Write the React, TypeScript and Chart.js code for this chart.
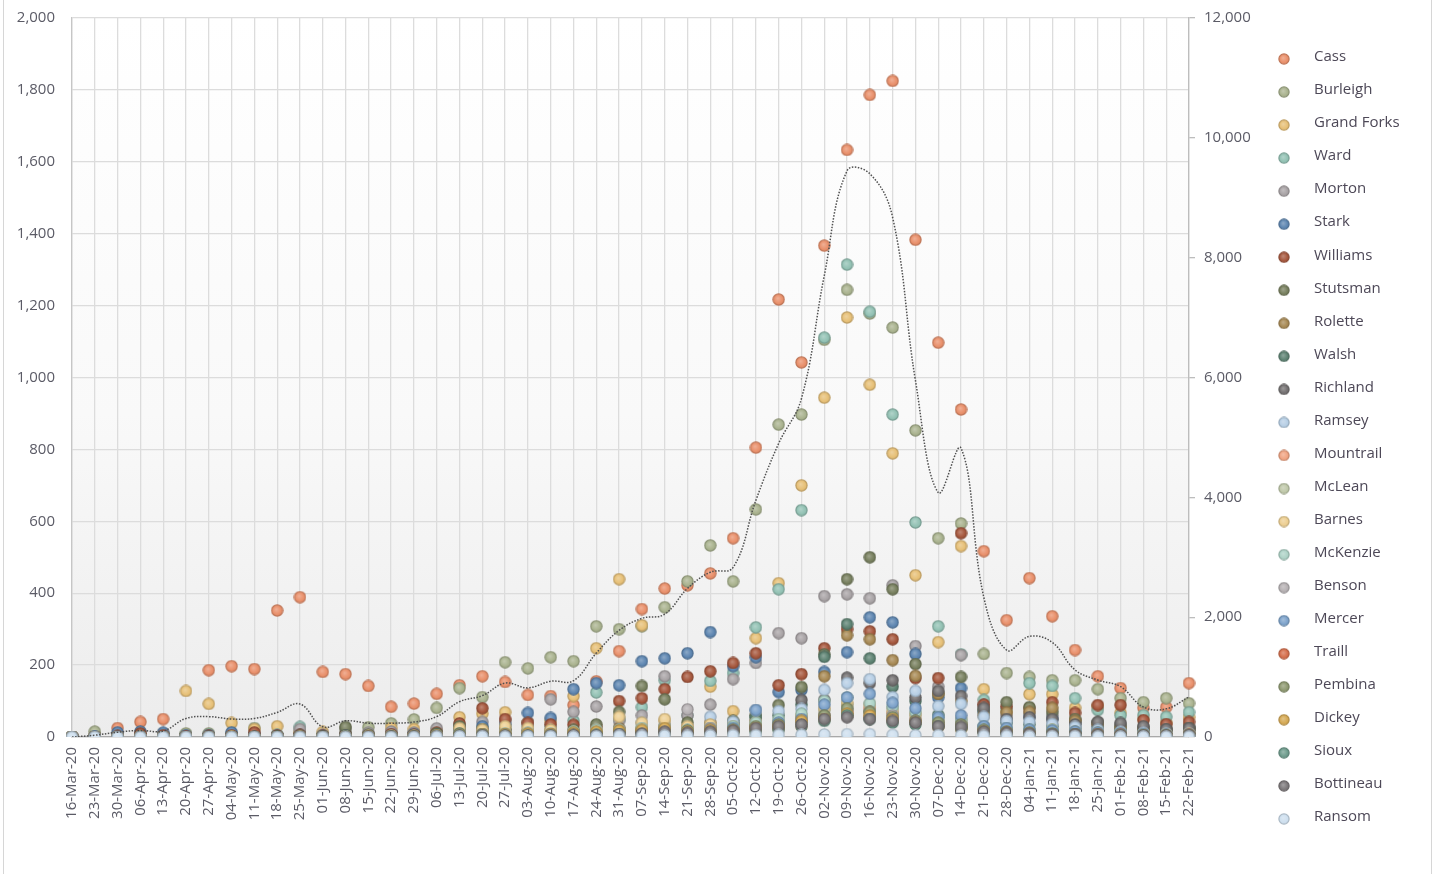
import React, { useEffect, useRef } from 'react';
import { Chart, registerables } from 'chart.js';

Chart.register(...registerables);

const weeks = [
  '16-Mar-20', '23-Mar-20', '30-Mar-20', '06-Apr-20', '13-Apr-20', '20-Apr-20', '27-Apr-20', '04-May-20', '11-May-20', '18-May-20',
  '25-May-20', '01-Jun-20', '08-Jun-20', '15-Jun-20', '22-Jun-20', '29-Jun-20', '06-Jul-20', '13-Jul-20', '20-Jul-20', '27-Jul-20',
  '03-Aug-20', '10-Aug-20', '17-Aug-20', '24-Aug-20', '31-Aug-20', '07-Sep-20', '14-Sep-20', '21-Sep-20', '28-Sep-20', '05-Oct-20',
  '12-Oct-20', '19-Oct-20', '26-Oct-20', '02-Nov-20', '09-Nov-20', '16-Nov-20', '23-Nov-20', '30-Nov-20', '07-Dec-20', '14-Dec-20',
  '21-Dec-20', '28-Dec-20', '04-Jan-21', '11-Jan-21', '18-Jan-21', '25-Jan-21', '01-Feb-21', '08-Feb-21', '15-Feb-21', '22-Feb-21',
];

const counties = [
  'Cass', 'Burleigh', 'Grand Forks', 'Ward', 'Morton', 'Stark', 'Williams', 'Stutsman', 'Rolette', 'Walsh', 'Richland', 'Ramsey',
  'Mountrail', 'McLean', 'Barnes', 'McKenzie', 'Benson', 'Mercer', 'Traill', 'Pembina', 'Dickey', 'Sioux', 'Bottineau', 'Ransom',
];

const countyColors = [
  '#E9906B', '#AAB38F', '#E7C077', '#93C2B4', '#A9A4A6', '#5E86B1', '#A6583E', '#78805F', '#A88A55', '#5E8373', '#747172', '#B7CFE5',
  '#F0A482', '#C0C9AA', '#EDCF92', '#AED3C7', '#B7B2B4', '#7EA3CB', '#D56F4D', '#8F9A72', '#D6AA55', '#6F9C8D', '#7D797B', '#CFE0EF',
];

const cass = [0, 4, 25, 42, 50, 5, 186, 197, 189, 352, 389, 181, 175, 142, 84, 93, 120, 144, 169, 153, 117, 114, 89, 155, 239, 356, 413, 422, 455, 553, 805, 1217, 1042, 1367, 1633, 1786, 1825, 1383, 1097, 911, 517, 325, 442, 336, 242, 169, 136, 81, 83, 150];
const burleigh = [0, 15, 5, 8, 6, 10, 10, 8, 25, 6, 12, 6, 22, 27, 38, 49, 81, 136, 111, 208, 191, 222, 211, 308, 300, 308, 361, 433, 533, 433, 633, 869, 897, 1105, 1244, 1178, 1139, 853, 553, 594, 231, 178, 167, 158, 158, 133, 108, 97, 108, 94];
const grandForks = [0, 2, 4, 6, 8, 128, 92, 39, 22, 30, 12, 14, 10, 8, 25, 22, 18, 55, 65, 69, 40, 45, 114, 247, 439, 311, 45, 30, 140, 72, 275, 428, 700, 944, 1167, 980, 789, 450, 264, 531, 133, 70, 119, 119, 81, 85, 67, 50, 40, 55];
const ward = [0, 1, 3, 4, 3, 5, 6, 10, 8, 6, 28, 5, 10, 8, 12, 10, 12, 35, 25, 30, 30, 30, 45, 124, 50, 83, 158, 60, 156, 178, 305, 411, 631, 1111, 1314, 1183, 897, 597, 308, 230, 103, 80, 150, 142, 108, 75, 60, 61, 56, 69];
const morton = [0, 2, 3, 4, 3, 4, 5, 6, 5, 4, 22, 6, 24, 12, 15, 12, 24, 30, 42, 45, 40, 105, 70, 85, 45, 60, 169, 60, 90, 161, 206, 289, 275, 392, 397, 386, 422, 253, 140, 228, 90, 60, 65, 60, 45, 40, 35, 28, 25, 30];
const stark = [0, 2, 13, 15, 12, 4, 5, 13, 8, 4, 6, 3, 8, 5, 6, 8, 10, 28, 30, 35, 67, 53, 133, 150, 144, 211, 219, 233, 292, 197, 222, 125, 131, 181, 236, 333, 319, 231, 110, 136, 70, 45, 55, 50, 40, 30, 25, 20, 18, 22];
const williams = [0, 0, 3, 10, 5, 2, 3, 5, 13, 4, 6, 3, 8, 5, 8, 6, 12, 38, 80, 50, 39, 35, 34, 28, 100, 108, 133, 167, 183, 206, 233, 144, 175, 247, 300, 294, 272, 164, 164, 567, 90, 85, 80, 97, 67, 89, 89, 47, 36, 42];
const stutsman = [0, 0, 0, 1, 0, 0, 1, 2, 1, 1, 3, 2, 28, 6, 4, 5, 10, 30, 22, 20, 15, 18, 20, 35, 70, 142, 105, 40, 30, 45, 60, 89, 139, 230, 439, 500, 411, 203, 120, 167, 75, 97, 83, 70, 50, 40, 30, 25, 20, 25];
const rolette = [0, 0, 0, 0, 0, 0, 0, 1, 0, 0, 0, 1, 2, 1, 2, 4, 5, 20, 15, 18, 15, 12, 10, 18, 25, 20, 30, 25, 40, 35, 45, 25, 55, 169, 283, 272, 214, 170, 120, 100, 60, 69, 70, 81, 45, 35, 25, 20, 15, 18];
const walsh = [0, 0, 0, 0, 0, 0, 0, 0, 0, 1, 2, 1, 5, 3, 2, 3, 6, 25, 10, 12, 8, 10, 12, 8, 15, 18, 25, 20, 30, 40, 55, 60, 90, 223, 314, 219, 140, 100, 61, 33, 28, 40, 35, 30, 25, 20, 15, 12, 10, 12];
const richland = [0, 0, 1, 1, 0, 0, 1, 0, 1, 0, 2, 1, 3, 2, 2, 3, 4, 20, 18, 15, 12, 10, 8, 10, 20, 6, 15, 20, 25, 30, 33, 40, 103, 103, 165, 150, 158, 110, 128, 114, 81, 50, 55, 50, 35, 42, 39, 30, 22, 25];
const ramsey = [0, 0, 0, 0, 0, 0, 0, 0, 0, 0, 0, 0, 1, 1, 1, 2, 3, 15, 12, 10, 10, 12, 10, 15, 20, 39, 30, 25, 56, 42, 75, 72, 78, 131, 150, 161, 111, 128, 86, 92, 56, 44, 42, 36, 28, 20, 15, 12, 10, 10];
const mountrail = [0, 0, 0, 0, 0, 0, 0, 0, 0, 0, 0, 0, 1, 0, 1, 2, 2, 8, 10, 12, 8, 6, 10, 12, 15, 20, 18, 15, 20, 25, 30, 35, 45, 60, 70, 80, 65, 50, 35, 30, 18, 15, 12, 10, 8, 6, 5, 4, 3, 5];
const mclean = [0, 0, 0, 0, 0, 0, 0, 0, 0, 0, 0, 0, 1, 1, 2, 1, 2, 8, 10, 15, 12, 10, 12, 15, 20, 25, 30, 22, 30, 25, 35, 40, 55, 75, 90, 70, 80, 60, 45, 50, 25, 20, 18, 15, 12, 10, 8, 6, 5, 6];
const barnes = [0, 0, 0, 1, 0, 0, 0, 1, 0, 0, 1, 0, 2, 3, 4, 3, 5, 25, 20, 30, 25, 20, 15, 20, 56, 40, 50, 30, 35, 30, 40, 45, 60, 80, 95, 90, 70, 65, 45, 40, 25, 20, 18, 20, 15, 12, 10, 8, 8, 10];
const mckenzie = [0, 0, 0, 0, 0, 0, 0, 0, 0, 0, 0, 0, 1, 1, 1, 2, 3, 10, 8, 10, 12, 10, 15, 20, 18, 25, 22, 20, 25, 30, 40, 50, 65, 100, 110, 94, 85, 70, 55, 45, 30, 25, 22, 20, 15, 12, 10, 8, 6, 8];
const benson = [0, 0, 0, 0, 0, 0, 0, 0, 0, 0, 0, 0, 0, 1, 1, 1, 2, 5, 8, 6, 5, 8, 6, 10, 12, 15, 20, 77, 25, 20, 25, 30, 40, 60, 75, 70, 60, 45, 40, 35, 20, 15, 12, 10, 8, 6, 5, 5, 4, 5];
const mercer = [0, 0, 0, 0, 0, 0, 0, 0, 0, 0, 0, 0, 1, 1, 2, 2, 3, 8, 6, 5, 6, 5, 8, 10, 12, 15, 10, 12, 20, 25, 75, 40, 50, 90, 110, 120, 95, 80, 55, 60, 30, 25, 20, 18, 15, 12, 10, 8, 6, 8];
const traill = [0, 0, 0, 0, 0, 0, 0, 0, 0, 0, 0, 0, 0, 1, 1, 2, 2, 6, 5, 4, 5, 6, 4, 8, 10, 12, 10, 8, 12, 15, 20, 25, 30, 50, 60, 55, 45, 40, 30, 25, 15, 12, 10, 8, 6, 8, 6, 5, 4, 6];
const pembina = [0, 0, 0, 0, 0, 0, 0, 0, 0, 0, 0, 0, 1, 1, 2, 2, 3, 10, 8, 6, 5, 6, 8, 10, 12, 15, 20, 18, 15, 20, 30, 35, 40, 60, 80, 70, 55, 45, 40, 35, 20, 15, 12, 10, 8, 6, 5, 5, 4, 5];
const dickey = [0, 0, 0, 0, 0, 0, 0, 0, 0, 0, 0, 0, 0, 1, 1, 2, 3, 5, 6, 8, 10, 8, 12, 15, 18, 20, 25, 15, 20, 18, 25, 30, 45, 50, 65, 60, 50, 40, 30, 25, 15, 12, 10, 8, 6, 5, 5, 4, 4, 5];
const sioux = [0, 0, 0, 0, 0, 0, 0, 0, 0, 0, 0, 0, 0, 0, 1, 1, 2, 4, 5, 3, 4, 5, 3, 6, 8, 6, 10, 8, 10, 12, 15, 20, 30, 45, 60, 50, 40, 35, 30, 25, 12, 10, 8, 8, 6, 5, 4, 4, 3, 4];
const bottineau = [0, 0, 0, 0, 0, 0, 0, 0, 0, 0, 0, 0, 0, 1, 1, 1, 2, 3, 5, 4, 3, 4, 6, 5, 8, 10, 15, 12, 15, 18, 25, 30, 35, 50, 55, 50, 45, 40, 30, 28, 15, 12, 10, 8, 8, 6, 5, 4, 4, 5];
const ransom = [0, 0, 0, 0, 0, 0, 0, 0, 0, 0, 0, 0, 0, 0, 0, 0, 1, 2, 2, 1, 2, 2, 1, 2, 3, 3, 4, 3, 4, 5, 5, 6, 6, 7, 8, 8, 6, 5, 5, 4, 3, 3, 2, 2, 2, 1, 1, 1, 1, 1];

const totalCases = [0, 30, 80, 110, 100, 310, 340, 300, 310, 410, 550, 170, 270, 230, 230, 250, 340, 590, 690, 900, 820, 930, 940, 1400, 1780, 1980, 2050, 2480, 2750, 2830, 3950, 4900, 5650, 7700, 9450, 9400, 8670, 5950, 4080, 4820, 2330, 1450, 1680, 1580, 1120, 950, 840, 500, 470, 670];

const leftTicks = { min: 0, max: 2000, step: 200 };
const rightTicks = { min: 0, max: 12000, step: 2000 };

const countyValues = [cass, burleigh, grandForks, ward, morton, stark, williams, stutsman, rolette, walsh, richland, ramsey,
  mountrail, mclean, barnes, mckenzie, benson, mercer, traill, pembina, dickey, sioux, bottineau, ransom];

function hexToRgb(h: string): number[] {
  const n = parseInt(h.slice(1), 16);
  return [(n >> 16) & 255, (n >> 8) & 255, n & 255];
}
function mix(c: number[], t: number[], f: number): number[] {
  return c.map((v, i) => Math.round(v + (t[i] - v) * f));
}
function rgb(a: number[]): string {
  return `rgb(${a[0]},${a[1]},${a[2]})`;
}
function makeMarker(hex: string, d: number): HTMLCanvasElement {
  const c = document.createElement('canvas');
  c.width = d;
  c.height = d;
  const ctx = c.getContext('2d')!;
  const base = hexToRgb(hex);
  const r = d / 2;
  const g = ctx.createRadialGradient(r * 0.85, r * 0.8, 0, r, r, r);
  g.addColorStop(0, rgb(mix(base, [255, 255, 255], 0.3)));
  g.addColorStop(0.65, rgb(base));
  g.addColorStop(1, rgb(mix(base, [0, 0, 0], 0.08)));
  ctx.beginPath();
  ctx.arc(r, r, r - 0.9, 0, Math.PI * 2);
  ctx.fillStyle = g;
  ctx.fill();
  ctx.lineWidth = 1.2;
  ctx.strokeStyle = rgb(mix(base, [0, 0, 0], 0.18));
  ctx.stroke();
  return c;
}

const fmt = (v: number | string) => Number(v).toLocaleString('en-US');

export default function App() {
  const canvasRef = useRef<HTMLCanvasElement | null>(null);

  useEffect(() => {
    if (!canvasRef.current) return;
    const markers = countyColors.map((c) => makeMarker(c, 13));
    const legendMarkers = countyColors.map((c) => makeMarker(c, 12));

    const bgPlugin = {
      id: 'plotBg',
      beforeDraw(chart: any) {
        const { ctx, chartArea } = chart;
        const g = ctx.createLinearGradient(0, chartArea.top, 0, chartArea.bottom);
        g.addColorStop(0, '#ffffff');
        g.addColorStop(0.55, '#f9f9f9');
        g.addColorStop(1, '#ececec');
        ctx.save();
        ctx.fillStyle = g;
        ctx.fillRect(chartArea.left, chartArea.top, chartArea.right - chartArea.left, chartArea.bottom - chartArea.top);
        ctx.restore();
      },
    };

    const legendPlugin = {
      id: 'sideLegend',
      afterDraw(chart: any) {
        const { ctx } = chart;
        ctx.save();
        ctx.font = '15px "Open Sans"';
        ctx.textBaseline = 'middle';
        ctx.textAlign = 'left';
        ctx.fillStyle = '#4d4857';
        counties.forEach((name, i) => {
          const y = 57 + i * 33.04;
          const m = legendMarkers[i];
          ctx.drawImage(m, 1284 - 6, y + 2 - 6, 12, 12);
          ctx.fillText(name, 1314, y);
        });
        ctx.restore();
      },
    };

    const datasets: any[] = countyValues.map((vals, i) => ({
      type: 'line',
      label: counties[i],
      data: vals,
      showLine: false,
      pointStyle: markers[i],
      pointRadius: 6,
      pointHoverRadius: 6,
      backgroundColor: countyColors[i],
      borderColor: countyColors[i],
      yAxisID: 'y',
      order: 30 - i,
    }));
    datasets.push({
      type: 'line',
      label: 'Total',
      data: totalCases,
      yAxisID: 'y1',
      borderColor: '#505050',
      borderWidth: 1.5,
      borderDash: [1.5, 1.5],
      pointRadius: 0,
      tension: 0.4,
      fill: false,
      order: 0,
    });

    const tickFont = { family: '"Open Sans"', size: 15 };
    const tickColor = '#5b5b66';

    const chart = new Chart(canvasRef.current, {
      type: 'line',
      data: { labels: weeks, datasets },
      options: {
        animation: false,
        responsive: false,
        maintainAspectRatio: false,
        layout: { padding: { top: 17, right: 0, bottom: 0, left: 0 } },
        plugins: {
          legend: { display: false },
          tooltip: { enabled: false },
        },
        scales: {
          x: {
            type: 'category',
            offset: false,
            grid: { color: '#dcdcdc', lineWidth: 1.3, drawTicks: false },
            border: { color: '#a9a9a9', width: 1.3 },
            ticks: {
              autoSkip: false,
              maxRotation: 90,
              minRotation: 90,
              padding: 10,
              font: tickFont,
              color: tickColor,
            },
            afterFit: (s: any) => {
              s.height = 137;
            },
          },
          y: {
            position: 'left',
            min: leftTicks.min,
            max: leftTicks.max,
            grid: { color: '#dcdcdc', lineWidth: 1.3, drawTicks: true, tickLength: 17, tickColor: 'rgba(0,0,0,0)' },
            border: { color: '#c6c6c6', width: 1.3 },
            ticks: {
              stepSize: leftTicks.step,
              padding: 0,
              font: tickFont,
              color: tickColor,
              callback: (v: any) => fmt(v),
            },
            afterFit: (s: any) => {
              s.width = 72;
            },
          },
          y1: {
            position: 'right',
            min: rightTicks.min,
            max: rightTicks.max,
            grid: { drawOnChartArea: false, drawTicks: true, tickLength: 6, color: '#bdbdbd', lineWidth: 1.3 },
            border: { color: '#bdbdbd', width: 1.3 },
            ticks: {
              stepSize: rightTicks.step,
              padding: 9,
              font: tickFont,
              color: tickColor,
              callback: (v: any) => fmt(v),
            },
            afterFit: (s: any) => {
              s.width = 1438 - 1189;
            },
          },
        },
      } as any,
      plugins: [bgPlugin, legendPlugin],
    });
    return () => chart.destroy();
  }, []);

  return (
    <div style={{ position: 'absolute', left: 0, top: 0, width: 1438, height: 874, background: '#fff', overflow: 'hidden' }}>
      <div
        style={{
          position: 'absolute',
          left: 3,
          top: -2,
          width: 1429,
          height: 890,
          border: '1px solid #d6d6d6',
          boxSizing: 'border-box',
        }}
      />
      <canvas ref={canvasRef} width={1438} height={874} style={{ position: 'absolute', left: 0, top: 0 }} />
    </div>
  );
}
